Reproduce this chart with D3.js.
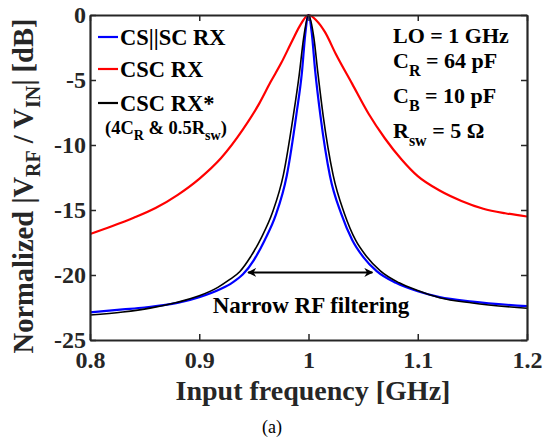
<!DOCTYPE html>
<html>
<head>
<meta charset="utf-8">
<script src="https://cdn.jsdelivr.net/npm/d3@7"></script>
<style>
  body { margin: 0; background: #fff; }
  svg { display: block; font-family: "Liberation Serif", "Times New Roman", serif; }
</style>
</head>
<body>
<div id="chart"></div>
<script>
// frequencies in GHz, values in dB
var xTicks = [0.8, 0.9, 1.0, 1.1, 1.2];
var xTickLabels = ['0.8', '0.9', '1', '1.1', '1.2'];
var yTicks = [-25, -20, -15, -10, -5, 0];
var yTickLabels = ['-25', '-20', '-15', '-10', '-5', '0'];

var cscFreq = [0.80, 0.82, 0.84, 0.86, 0.88, 0.90, 0.92, 0.94, 0.955, 0.965, 0.975, 0.985, 0.993, 1.0,
  1.007, 1.015, 1.025, 1.04, 1.055, 1.07, 1.085, 1.10, 1.12, 1.14, 1.16, 1.18, 1.20];
var cscDb = [-16.85, -16.25, -15.6, -14.85, -13.85, -12.6, -11.0, -8.8, -6.8, -5.2, -3.7, -2.0, -0.7, 0,
  -0.4, -1.3, -3.0, -5.3, -7.6, -9.5, -11.1, -12.4, -13.5, -14.3, -14.9, -15.25, -15.5];

var csscFreq = [0.80, 0.83, 0.85, 0.88, 0.90, 0.92, 0.93, 0.94, 0.95, 0.96, 0.97, 0.98, 0.989, 0.994, 0.997, 1.0,
  1.003, 1.006, 1.011, 1.0197, 1.03, 1.04, 1.05, 1.0624, 1.08, 1.10, 1.12, 1.15, 1.20];
var csscDb = [-22.87, -22.65, -22.5, -22.15, -21.7, -21.05, -20.6, -19.95, -18.85, -17.3, -15.4, -12.4, -7.6, -4.4, -1.5, 0,
  -1.4, -4.2, -7.8, -12.4, -15.3, -17.3, -18.6, -19.7, -20.6, -21.25, -21.7, -22.05, -22.4];

var cscStarFreq = [0.80, 0.83, 0.855, 0.88, 0.90, 0.917, 0.927, 0.937, 0.947, 0.957, 0.967, 0.977, 0.986, 0.9915, 0.9955, 1.0,
  1.005, 1.0085, 1.0135, 1.0225, 1.033, 1.043, 1.053, 1.066, 1.083, 1.10, 1.12, 1.15, 1.20];
var cscStarDb = [-23.08, -22.85, -22.55, -22.1, -21.6, -20.95, -20.4, -19.75, -18.6, -17.1, -15.2, -12.3, -7.8, -4.6, -1.8, 0,
  -1.8, -4.4, -7.8, -12.3, -15.3, -17.3, -18.55, -19.7, -20.6, -21.2, -21.75, -22.15, -22.56];

var W = 543, H = 441;
var plot = { left: 90, right: 527, top: 15, bottom: 340 };
var axisColor = '#262626';

var svg = d3.select('#chart').append('svg').attr('width', W).attr('height', H);

var x = d3.scaleLinear().domain([0.8, 1.2]).range([plot.left, plot.right]);
var y = d3.scaleLinear().domain([-25, 0]).range([plot.bottom, plot.top]);

function zip(fs, vs) {
  return fs.map(function(f, i) { return { f: f, v: vs[i] }; });
}

var line = d3.line()
  .x(function(d) { return x(d.f); })
  .y(function(d) { return y(d.v); })
  .curve(d3.curveMonotoneX);

svg.append('clipPath').attr('id', 'clip')
  .append('rect')
  .attr('x', plot.left).attr('y', plot.top - 2)
  .attr('width', plot.right - plot.left).attr('height', plot.bottom - plot.top + 2);

var curves = svg.append('g').attr('clip-path', 'url(#clip)');
curves.append('path').datum(zip(cscFreq, cscDb))
  .attr('fill', 'none').attr('stroke', '#ff0000').attr('stroke-width', 2.2).attr('d', line);
curves.append('path').datum(zip(csscFreq, csscDb))
  .attr('fill', 'none').attr('stroke', '#0000ff').attr('stroke-width', 2.2).attr('d', line);
curves.append('path').datum(zip(cscStarFreq, cscStarDb))
  .attr('fill', 'none').attr('stroke', '#000000').attr('stroke-width', 1.6).attr('d', line);

// axes (MATLAB style box, ticks inside)
var xAxis = svg.append('g')
  .attr('transform', 'translate(0,' + plot.bottom + ')')
  .call(d3.axisBottom(x).tickValues(xTicks).tickSizeInner(-6).tickSizeOuter(0).tickPadding(12)
    .tickFormat(function(d, i) { return xTickLabels[i]; }));
var yAxis = svg.append('g')
  .attr('transform', 'translate(' + plot.left + ',0)')
  .call(d3.axisLeft(y).tickValues(yTicks).tickSizeInner(-6).tickSizeOuter(0).tickPadding(4)
    .tickFormat(function(d, i) { return yTickLabels[i]; }));
var xTop = svg.append('g')
  .attr('transform', 'translate(0,' + plot.top + ')')
  .call(d3.axisTop(x).tickValues(xTicks).tickSizeInner(-6).tickSizeOuter(0).tickFormat(''));
var yRight = svg.append('g')
  .attr('transform', 'translate(' + plot.right + ',0)')
  .call(d3.axisRight(y).tickValues(yTicks).tickSizeInner(-6).tickSizeOuter(0).tickFormat(''));

[xAxis, yAxis, xTop, yRight].forEach(function(g) {
  g.select('.domain').attr('stroke', axisColor).attr('stroke-width', 2.2);
  g.selectAll('.tick line').attr('stroke', axisColor).attr('stroke-width', 1.5);
  g.selectAll('.tick text')
    .attr('fill', axisColor)
    .style('font-family', '"Liberation Serif", serif')
    .style('font-weight', 'bold')
    .style('font-size', '24px');
});
xAxis.selectAll('.tick text').attr('dy', '0.68em');

// axis titles
svg.append('text')
  .attr('x', 313)
  .attr('y', 400)
  .attr('text-anchor', 'middle')
  .attr('fill', axisColor)
  .style('font-weight', 'bold')
  .style('font-size', '28px')
  .text('Input frequency [GHz]');

var yl = svg.append('text')
  .attr('transform', 'translate(33,186) rotate(-90)')
  .attr('text-anchor', 'middle')
  .attr('fill', axisColor)
  .style('font-weight', 'bold')
  .style('font-size', '28.5px');
yl.append('tspan').text('Normalized |V');
yl.append('tspan').attr('dy', 7).style('font-size', '20px').text('RF');
yl.append('tspan').attr('dy', -7).text(' / V');
yl.append('tspan').attr('dy', 7).style('font-size', '20px').text('IN');
yl.append('tspan').attr('dy', -7).text('| [dB]');

// legend
var legendItems = [
  { label: 'CS||SC RX', color: '#0000ff', y: 37 },
  { label: 'CSC RX', color: '#ff0000', y: 69 },
  { label: 'CSC RX*', color: '#000000', y: 103 }
];
var legend = svg.append('g');
legendItems.forEach(function(d) {
  legend.append('line')
    .attr('x1', 98).attr('x2', 118)
    .attr('y1', d.y).attr('y2', d.y)
    .attr('stroke', d.color).attr('stroke-width', 2.2);
  legend.append('text')
    .attr('x', 120).attr('y', d.y + 7.5)
    .style('font-weight', 'bold')
    .style('font-size', '22.5px')
    .text(d.label);
});
var note = legend.append('text')
  .attr('x', 105).attr('y', 134)
  .style('font-weight', 'bold')
  .style('font-size', '18.5px');
note.append('tspan').text('(4C');
note.append('tspan').attr('dy', 6).style('font-size', '14px').text('R');
note.append('tspan').attr('dy', -6).text(' & 0.5R');
note.append('tspan').attr('dy', 6).style('font-size', '14px').text('sw');
note.append('tspan').attr('dy', -6).text(')');

// parameter box
var params = [
  { main: 'LO = 1 GHz', sub: '', rest: '', y: 43 },
  { main: 'C', sub: 'R', rest: ' = 64 pF', y: 68 },
  { main: 'C', sub: 'B', rest: ' = 10 pF', y: 103 },
  { main: 'R', sub: 'sw', rest: ' = 5 \u03A9', y: 138 }
];
params.forEach(function(p) {
  var t = svg.append('text')
    .attr('x', 393).attr('y', p.y)
    .style('font-weight', 'bold')
    .style('font-size', '22px');
  t.append('tspan').text(p.main);
  if (p.sub) {
    t.append('tspan').attr('dy', 8).style('font-size', '16px').text(p.sub);
    t.append('tspan').attr('dy', -8).text(p.rest);
  }
});

// narrow filtering annotation
svg.append('defs').append('marker')
  .attr('id', 'head')
  .attr('viewBox', '0 0 10 10')
  .attr('refX', 9).attr('refY', 5)
  .attr('markerWidth', 9).attr('markerHeight', 9)
  .attr('markerUnits', 'userSpaceOnUse')
  .attr('orient', 'auto-start-reverse')
  .append('path')
  .attr('d', 'M0,0 L10,5 L0,10 L3,5 Z')
  .attr('fill', '#000');

svg.append('line')
  .attr('x1', x(0.9447)).attr('x2', x(1.0585))
  .attr('y1', y(-19.8)).attr('y2', y(-19.8))
  .attr('stroke', '#000').attr('stroke-width', 2)
  .attr('marker-start', 'url(#head)')
  .attr('marker-end', 'url(#head)');

svg.append('text')
  .attr('x', 311).attr('y', 313)
  .attr('text-anchor', 'middle')
  .style('font-weight', 'bold')
  .style('font-size', '23px')
  .text('Narrow RF filtering');

// caption
svg.append('text')
  .attr('x', 272).attr('y', 433)
  .attr('text-anchor', 'middle')
  .style('font-size', '18px')
  .text('(a)');
</script>
</body>
</html>
